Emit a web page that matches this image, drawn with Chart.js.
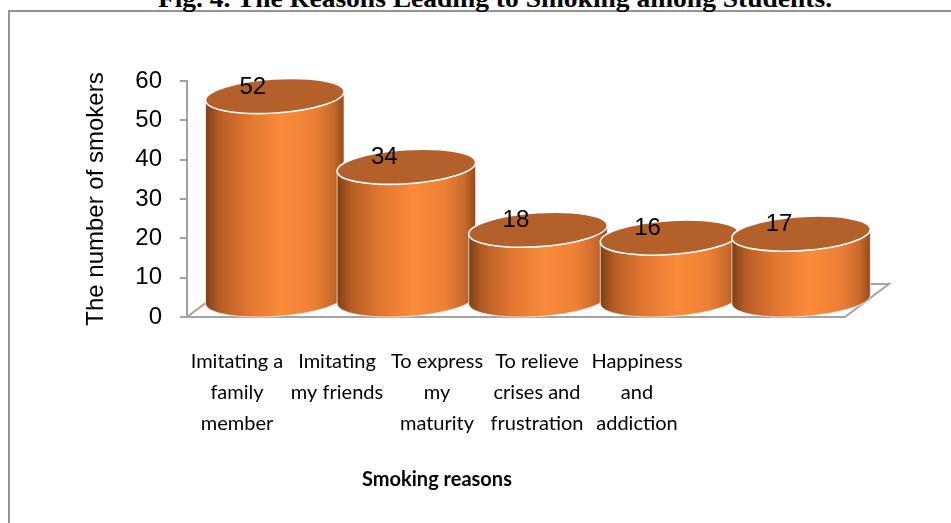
<!DOCTYPE html>
<html>
<head>
<meta charset="utf-8">
<script src="https://cdn.jsdelivr.net/npm/chart.js@4.4.0/dist/chart.umd.min.js"></script>
<style>
  html, body { margin: 0; padding: 0; background: #fff; overflow: hidden; }
  #cadre { position: absolute; left: 8px; top: 10px; width: 1200px; height: 800px; border: 2px solid #939393; }
  #legende { position: absolute; left: 0; top: -12px; width: 990px; text-align: center;
             font: bold 25px "Liberation Serif", "Times New Roman", serif; line-height: 22px; white-space: nowrap;
             transform: scaleX(1.1); transform-origin: 495px 0; }
  #graphique { position: absolute; left: 0; top: 0; }
</style>
</head>
<body>
<div id="cadre"></div>
<div id="legende">Fig. 4. The Reasons Leading to Smoking among Students.</div>
<canvas id="graphique" width="951" height="523"></canvas>
<script>
// Données du graphique
const raisons = [
    ["Imitating a", "family", "member"],
    ["Imitating", "my friends"],
    ["To express", "my", "maturity"],
    ["To relieve", "crises and", "frustration"],
    ["Happiness", "and", "addiction"]
];
const fumeurs = [52, 34, 18, 16, 17];
const titreAxeY = "The number of smokers";
const titreAxeX = "Smoking reasons";

// Profondeur de la vue 3D (plancher), les cylindres sont au milieu
const profondeur = { dx: 44, dy: -33 };

const pluginCylindres = {
    id: 'cylindres',
    beforeDatasetsDraw(chart) {
        // Plancher en perspective
        const ctx = chart.ctx;
        const xs = chart.scales.xb;
        const ys = chart.scales.y;
        const x0 = xs.getPixelForValue(-0.5);
        const x1 = xs.getPixelForValue(fumeurs.length - 0.5);
        const y0 = ys.getPixelForValue(0);
        ctx.save();
        ctx.strokeStyle = '#a3a3a3';
        ctx.lineWidth = 2;
        ctx.beginPath();
        ctx.moveTo(x0, y0);
        ctx.lineTo(x1, y0);
        ctx.lineTo(x1 + profondeur.dx, y0 + profondeur.dy);
        ctx.lineTo(x0 + profondeur.dx, y0 + profondeur.dy);
        ctx.closePath();
        ctx.stroke();
        ctx.restore();
    },
    afterDatasetsDraw(chart) {
        const ctx = chart.ctx;
        const xs = chart.scales.xb;
        const meta = chart.getDatasetMeta(0);
        const rot = -0.066;
        // largeur d'un cylindre : un peu plus que l'écart entre catégories
        const pas = xs.getPixelForValue(1) - xs.getPixelForValue(0);
        const rx = pas * 0.5275;
        const ry = 17;

        meta.data.forEach((barre) => {
            const cx = barre.x + profondeur.dx / 2;
            const haut = barre.y + profondeur.dy / 2;
            const bas = barre.base + profondeur.dy / 2;
            const ex = rx * Math.cos(rot), ey = rx * Math.sin(rot);

            const degrade = ctx.createLinearGradient(cx - rx, 0, cx + rx, 0);
            degrade.addColorStop(0, '#7c3f17');
            degrade.addColorStop(0.1, '#b65d24');
            degrade.addColorStop(0.3, '#df7531');
            degrade.addColorStop(0.55, '#fa8b3a');
            degrade.addColorStop(0.78, '#ec8036');
            degrade.addColorStop(0.92, '#c96a2b');
            degrade.addColorStop(1, '#93491c');

            ctx.save();
            // corps du cylindre
            ctx.beginPath();
            ctx.moveTo(cx - ex, haut - ey);
            ctx.lineTo(cx - ex, bas - ey);
            ctx.ellipse(cx, bas, rx, ry, rot, Math.PI, 0, true);
            ctx.lineTo(cx + ex, haut + ey);
            ctx.ellipse(cx, haut, rx, ry, rot, 0, Math.PI, false);
            ctx.closePath();
            ctx.fillStyle = degrade;
            ctx.fill();
            ctx.strokeStyle = 'rgba(255,255,255,0.7)';
            ctx.lineWidth = 1;
            ctx.stroke();

            // dessus
            ctx.beginPath();
            ctx.ellipse(cx, haut, rx, ry, rot, 0, Math.PI * 2);
            ctx.fillStyle = '#b4602a';
            ctx.fill();
            ctx.strokeStyle = '#ffffff';
            ctx.lineWidth = 1.6;
            ctx.stroke();
            ctx.restore();
        });

        // étiquettes de valeurs
        ctx.save();
        ctx.fillStyle = '#000';
        ctx.font = '24px "Liberation Sans", Arial, sans-serif';
        ctx.textAlign = 'center';
        ctx.textBaseline = 'middle';
        meta.data.forEach((barre, i) => {
            ctx.fillText(String(fumeurs[i]), barre.x, barre.y - 25.5);
        });
        ctx.restore();
    }
};

const ctx = document.getElementById('graphique').getContext('2d');
const monGraphique = new Chart(ctx, {
    type: 'bar',
    data: {
        labels: raisons,
        datasets: [{
            label: titreAxeY,
            data: fumeurs.map((v, i) => ({ x: i, y: v })),
            xAxisID: 'xb',
            yAxisID: 'y',
            backgroundColor: 'rgba(0,0,0,0)',
            borderWidth: 0,
            clip: false
        }]
    },
    options: {
        responsive: false,
        animation: false,
        layout: { padding: { top: 81, right: 264, bottom: 0, left: 0 } },
        plugins: {
            legend: { display: false },
            tooltip: { enabled: false }
        },
        scales: {
            x: {
                type: 'category',
                position: 'bottom',
                offset: true,
                grid: { display: false, drawTicks: false },
                border: { display: false },
                ticks: {
                    autoSkip: false,
                    maxRotation: 0,
                    color: '#000',
                    padding: 29,
                    font: { family: 'Lato', size: 20, lineHeight: 1.55 }
                },
                title: {
                    display: true,
                    text: titreAxeX,
                    color: '#000',
                    font: { family: 'Lato', size: 20, weight: 'bold', lineHeight: 1.2 },
                    padding: { top: 0, bottom: 31 }
                },
                afterFit: function (scale) { scale.height = 206; }
            },
            xb: {
                type: 'linear',
                position: 'bottom',
                display: false,
                offset: false,
                min: -0.5,
                max: 3.3
            },
            y: {
                type: 'linear',
                position: 'left',
                min: 0,
                max: 60,
                grid: { drawOnChartArea: false, color: '#a3a3a3', lineWidth: 2, tickLength: 7 },
                border: { display: true, color: '#a3a3a3', width: 2 },
                ticks: {
                    stepSize: 10,
                    color: '#000',
                    padding: 18,
                    font: { family: 'Liberation Sans', size: 24 }
                },
                title: {
                    display: true,
                    text: titreAxeY,
                    color: '#000',
                    font: { family: 'Liberation Sans', size: 24, lineHeight: 1.2 },
                    padding: { top: 82, bottom: 0 }
                },
                afterFit: function (scale) { scale.width = 187; }
            }
        }
    },
    plugins: [pluginCylindres]
});
</script>
</body>
</html>
